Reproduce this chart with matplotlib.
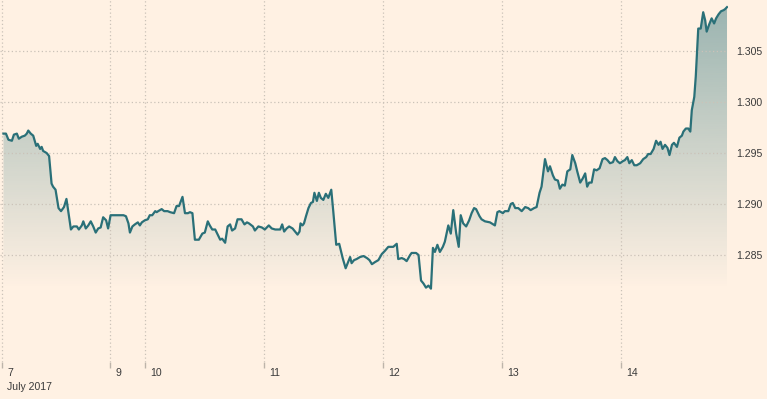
import numpy as np
import matplotlib
matplotlib.use("Agg")
import matplotlib.pyplot as plt
from matplotlib.patches import Polygon
from matplotlib.transforms import offset_copy

# ---- data: trading hours since 7 July 2017 00:00 (weekend removed) and GBP/USD price ----
hours = [0.3, 0.8, 1.3, 2.0, 2.4, 3.0, 3.4, 4.0, 4.6, 5.0, 5.3, 5.8, 6.3, 6.9, 7.2, 7.7, 8.0, 8.3, 9.0, 9.5,
         10.0, 10.3, 10.8, 11.4, 11.9, 12.5, 13.0, 13.9, 14.4, 15.1, 15.5, 16.1, 16.4, 16.9, 17.4, 17.9, 18.4, 18.9, 19.4, 19.9,
         20.4, 21.0, 21.4, 21.9, 22.8, 24.5, 25.0, 25.5, 25.8, 26.3, 26.8, 27.4, 27.8, 28.2, 28.8, 29.4, 29.8, 30.3, 30.9, 31.2,
         31.5, 32.2, 32.7, 33.4, 33.9, 34.7, 35.2, 35.7, 36.4, 36.9, 37.5, 37.9, 38.4, 38.9, 39.7, 40.4, 40.9, 41.5, 41.9, 42.4,
         43.0, 43.5, 44.0, 44.4, 45.0, 45.5, 46.0, 46.4, 47.0, 47.5, 48.3, 48.9, 49.4, 49.8, 50.6, 51.0, 51.7, 52.4, 53.0, 53.8,
         54.4, 55.1, 55.7, 56.1, 56.5, 56.9, 57.4, 57.9, 58.6, 59.1, 59.6, 60.0, 60.2, 60.6, 60.9, 61.3, 61.8, 62.3, 62.7, 63.0,
         63.5, 63.9, 64.3, 64.8, 65.3, 65.8, 66.4, 66.8, 67.4, 68.0, 68.7, 69.3, 69.8, 70.2, 70.5, 71.0, 71.5, 72.2, 72.9, 73.6,
         74.1, 74.6, 75.2, 75.9, 76.6, 77.2, 77.9, 78.9, 79.6, 79.9, 80.6, 81.1, 81.6, 82.3, 82.6, 83.5, 84.0, 84.5, 85.0, 85.5,
         86.0, 86.5, 86.9, 87.3, 87.8, 88.3, 88.9, 89.3, 90.0, 90.5, 91.0, 91.6, 92.1, 92.5, 93.0, 93.6, 94.2, 94.7, 95.2, 95.6,
         96.3, 96.7, 97.4, 98.4, 99.4, 99.9, 100.3, 101.0, 101.4, 102.1, 102.6, 103.0, 103.5, 104.1, 104.8, 105.5, 106.1, 106.6, 107.3, 107.8,
         108.4, 108.8, 109.5, 110.1, 110.5, 111.1, 111.5, 112.1, 112.5, 113.0, 113.5, 114.0, 114.6, 115.0, 115.6, 116.0, 116.6, 117.1, 117.6, 118.0,
         118.4, 118.9, 119.4, 119.9, 120.5, 121.1, 121.6, 122.1, 122.6, 123.2, 123.6, 124.1, 124.6, 125.2, 125.6, 126.1, 126.5, 127.0, 127.5, 128.0,
         128.7, 129.3, 129.9, 130.3, 130.8, 131.4, 131.9, 132.4, 132.8, 133.2, 133.7, 134.2, 134.6, 135.1, 135.5, 136.1, 136.6, 137.1, 137.4, 137.9,
         138.4, 138.8, 139.1, 139.6, 139.9, 140.4, 140.9, 141.4, 141.8, 142.1, 142.6, 143.1, 143.6, 144.0, 144.5, 145.0, 145.5, 145.8, 146.2]

prices = [1.2969, 1.2969, 1.2963, 1.2962, 1.2968, 1.2969, 1.2964, 1.2966, 1.2967, 1.2969, 1.2972, 1.2969, 1.2967, 1.2957, 1.2959, 1.2954, 1.2956, 1.2952, 1.2950, 1.2947,
          1.2920, 1.2917, 1.2914, 1.2896, 1.2893, 1.2897, 1.2905, 1.2875, 1.2878, 1.2878, 1.2875, 1.2879, 1.2883, 1.2876, 1.2879, 1.2883, 1.2878, 1.2872, 1.2876, 1.2877,
          1.2887, 1.2884, 1.2876, 1.2889, 1.2889, 1.2889, 1.2888, 1.2881, 1.2872, 1.2878, 1.2880, 1.2882, 1.2879, 1.2882, 1.2884, 1.2885, 1.2889, 1.2889, 1.2893, 1.2892,
          1.2893, 1.2895, 1.2893, 1.2893, 1.2892, 1.2891, 1.2898, 1.2898, 1.2907, 1.2891, 1.2891, 1.2892, 1.2891, 1.2865, 1.2865, 1.2871, 1.2872, 1.2883, 1.2879, 1.2875,
          1.2875, 1.2870, 1.2865, 1.2866, 1.2862, 1.2878, 1.2880, 1.2874, 1.2876, 1.2885, 1.2885, 1.2880, 1.2882, 1.2881, 1.2878, 1.2874, 1.2878, 1.2877, 1.2875, 1.2879,
          1.2876, 1.2875, 1.2875, 1.2875, 1.2880, 1.2873, 1.2876, 1.2878, 1.2876, 1.2873, 1.2870, 1.2873, 1.2881, 1.2879, 1.2881, 1.2888, 1.2896, 1.2901, 1.2902, 1.2911,
          1.2903, 1.2911, 1.2906, 1.2904, 1.2910, 1.2906, 1.2914, 1.2893, 1.2860, 1.2861, 1.2847, 1.2837, 1.2843, 1.2848, 1.2842, 1.2845, 1.2846, 1.2848, 1.2849, 1.2847,
          1.2845, 1.2841, 1.2843, 1.2845, 1.2851, 1.2854, 1.2858, 1.2858, 1.2861, 1.2846, 1.2847, 1.2846, 1.2844, 1.2850, 1.2852, 1.2852, 1.2850, 1.2825, 1.2822, 1.2818,
          1.2820, 1.2817, 1.2857, 1.2853, 1.2860, 1.2853, 1.2858, 1.2863, 1.2879, 1.2871, 1.2894, 1.2871, 1.2858, 1.2889, 1.2881, 1.2878, 1.2884, 1.2891, 1.2896, 1.2895,
          1.2888, 1.2885, 1.2883, 1.2882, 1.2879, 1.2892, 1.2893, 1.2891, 1.2893, 1.2893, 1.2900, 1.2901, 1.2896, 1.2896, 1.2893, 1.2897, 1.2896, 1.2894, 1.2896, 1.2897,
          1.2911, 1.2917, 1.2944, 1.2932, 1.2937, 1.2928, 1.2924, 1.2923, 1.2915, 1.2919, 1.2918, 1.2932, 1.2934, 1.2948, 1.2940, 1.2932, 1.2921, 1.2925, 1.2930, 1.2917,
          1.2921, 1.2921, 1.2934, 1.2933, 1.2935, 1.2944, 1.2945, 1.2943, 1.2940, 1.2941, 1.2946, 1.2942, 1.2940, 1.2942, 1.2943, 1.2946, 1.2940, 1.2943, 1.2938, 1.2938,
          1.2940, 1.2944, 1.2946, 1.2949, 1.2949, 1.2954, 1.2962, 1.2958, 1.2961, 1.2954, 1.2958, 1.2955, 1.2948, 1.2958, 1.2960, 1.2956, 1.2965, 1.2967, 1.2971, 1.2974,
          1.2974, 1.2971, 1.2992, 1.3005, 1.3025, 1.3072, 1.3072, 1.3088, 1.3080, 1.3069, 1.3076, 1.3082, 1.3077, 1.3082, 1.3086, 1.3089, 1.3090, 1.3091, 1.3093]

tick_hours = [0.0, 21.8, 28.8, 52.8, 76.8, 100.8, 124.8]
tick_labels = ["7", "9", "10", "11", "12", "13", "14"]
month_label = "July 2017"
y_ticks = [1.285, 1.290, 1.295, 1.300, 1.305]

# ---- style ----
BG = "#FFF1E3"
LINE = "#2A7078"
GRID = "#CBC2B8"
TEXT = "#3A3A3A"
plt.rcParams["font.family"] = ["Liberation Sans", "DejaVu Sans"]

W, H = 767, 399
fig = plt.figure(figsize=(W / 100, H / 100), dpi=100, facecolor=BG)
ax = fig.add_axes([0, 37 / H, 728 / W, 362 / H])
ax.set_facecolor(BG)

x = np.array(hours)
y = np.array(prices)
xmin, xmax = -0.4, 146.4
ymin, ymax = 1.27451, 1.3100
ax.set_xlim(xmin, xmax)
ax.set_ylim(ymin, ymax)

# gradient area fill
fill_bottom = y.min()
top_alpha = 0.47
n = 256
grad = np.zeros((n, 1, 4))
rgb = matplotlib.colors.to_rgb(LINE)
grad[..., 0], grad[..., 1], grad[..., 2] = rgb
levels = np.linspace(ymax, ymin, n)
a = np.clip((levels - fill_bottom) / (y.max() - fill_bottom), 0, 1) * top_alpha
grad[:, 0, 3] = a
poly_xy = np.vstack([np.column_stack([x, y]), [[x[-1], ymin], [x[0], ymin]]])
poly = Polygon(poly_xy, closed=True, facecolor="none", edgecolor="none")
ax.add_patch(poly)
im = ax.imshow(grad, aspect="auto", extent=[xmin, xmax, ymin, ymax], origin="upper",
               interpolation="bilinear", zorder=1)
im.set_clip_path(poly)

# grid
for yt in y_ticks:
    ax.axhline(yt, color=GRID, lw=0.9, ls=(0, (1, 2)), zorder=2)
for xt in tick_hours:
    ax.axvline(xt, color=GRID, lw=0.9, ls=(0, (1, 2)), zorder=2)

ax.plot(x, y, color=LINE, lw=1.6, zorder=3, solid_joinstyle="round")

for s in ax.spines.values():
    s.set_visible(False)

ax.set_yticks(y_ticks)
ax.set_yticklabels([f"{v:.3f}" for v in y_ticks])
ax.yaxis.tick_right()
ax.tick_params(axis="y", length=0, pad=5.8, labelsize=7.6, labelcolor=TEXT)

ax.set_xticks(tick_hours)
ax.set_xticklabels([""] * len(tick_hours))
ax.tick_params(axis="x", direction="out", length=4.3, width=1.0, color="#BDB4AA", pad=0)

for xt, lab in zip(tick_hours, tick_labels):
    ax.annotate(lab, xy=(xt, 0), xycoords=("data", "axes fraction"), xytext=(3.6, -4.0),
                textcoords="offset points", ha="left", va="top", fontsize=7.6, color=TEXT)
ax.annotate(month_label, xy=(tick_hours[0], 0), xycoords=("data", "axes fraction"), xytext=(3.6, -14.5),
            textcoords="offset points", ha="left", va="top", fontsize=7.6, color=TEXT)

fig.savefig("out.png", dpi=100, facecolor=BG)
